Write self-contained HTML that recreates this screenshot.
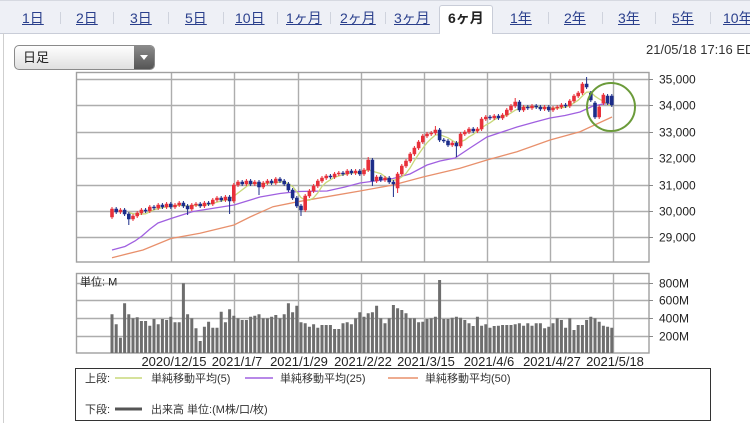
<!DOCTYPE html>
<html><head><meta charset="utf-8"><style>
html,body{margin:0;padding:0;width:750px;height:423px;overflow:hidden;background:#fff;font-family:"Liberation Sans","Noto Sans CJK JP",sans-serif;}
#tabs{position:absolute;left:0;top:0;width:750px;height:34px;background:#eef0f6;border-top:1px solid #d6d9e1;border-bottom:1px solid #c9cdd8;box-sizing:border-box}
.t{position:absolute;top:9px;font-size:14px;line-height:18px;color:#2a3f8c;text-decoration:underline;white-space:nowrap}
.s{position:absolute;top:12px;width:1px;height:12px;background:#cfd3dd}
#sel{position:absolute;left:439px;top:5px;width:54px;height:29px;background:#fff;border:1px solid #c9cdd8;border-bottom:none;box-sizing:border-box;border-radius:3px 3px 0 0}
#lb{position:absolute;left:3px;top:33px;width:1px;height:390px;background:#cfcfcf}
#dd{position:absolute;left:14px;top:45px;width:141px;height:25px;box-sizing:border-box;border:1px solid #8a8a8a;border-radius:5px;background:linear-gradient(#fefefe,#e0e0e0);overflow:hidden}
#dd span{position:absolute;left:8px;top:0;font-size:13px;line-height:23px;color:#222}
#dd i{position:absolute;right:0;top:0;width:20px;height:23px;background:linear-gradient(#8a8a8a,#555)}
#dd i:after{content:"";position:absolute;left:6px;top:9px;border-left:4px solid transparent;border-right:4px solid transparent;border-top:5px solid #fff}
#dt{position:absolute;left:646px;top:42px;font-size:13px;line-height:16px;color:#333;white-space:nowrap}
svg{position:absolute;left:0;top:0}
</style></head><body>
<div id="tabs"></div>
<div id="sel"></div>
<div class="t" style="left:22px">1日</div>
<div class="s" style="left:60px"></div>
<div class="t" style="left:76px">2日</div>
<div class="s" style="left:113px"></div>
<div class="t" style="left:130px">3日</div>
<div class="s" style="left:168px"></div>
<div class="t" style="left:185px">5日</div>
<div class="s" style="left:223px"></div>
<div class="t" style="left:235px">10日</div>
<div class="s" style="left:277px"></div>
<div class="t" style="left:286px">1ヶ月</div>
<div class="s" style="left:330px"></div>
<div class="t" style="left:340px">2ヶ月</div>
<div class="s" style="left:385px"></div>
<div class="t" style="left:394px">3ヶ月</div>
<div class="t" style="left:448px;color:#222;font-weight:bold;text-decoration:none">6ヶ月</div>
<div class="t" style="left:510px">1年</div>
<div class="s" style="left:548px"></div>
<div class="t" style="left:564px">2年</div>
<div class="s" style="left:602px"></div>
<div class="t" style="left:618px">3年</div>
<div class="s" style="left:655px"></div>
<div class="t" style="left:672px">5年</div>
<div class="s" style="left:710px"></div>
<div class="t" style="left:723px">10年</div>
<div id="lb"></div>
<div id="dd"><span>日足</span><i></i></div>
<div id="dt">21/05/18 17:16 EDT</div>
<svg width="750" height="423" viewBox="0 0 750 423" font-family="Liberation Sans, Noto Sans CJK JP, sans-serif">
<g stroke="#adadad" stroke-width="1.4" fill="none">
<path d="M76 79.5H649M76 105.5H649M76 132.5H649M76 158.5H649M76 185.5H649M76 211.5H649M76 237.5H649"/>
<path d="M171.5 72V262M234.5 72V262M298.5 72V262M361.5 72V262M424.5 72V262M487.5 72V262M550.5 72V262M613.5 72V262"/>
<path d="M76 283.5H649M76 300.5H649M76 318.5H649M76 336.5H649"/>
<path d="M171.5 273V353M234.5 273V353M298.5 273V353M361.5 273V353M424.5 273V353M487.5 273V353M550.5 273V353M613.5 273V353"/>
<rect x="76.5" y="72.5" width="572.5" height="189.5" stroke="#a0a0a0"/>
<rect x="76.5" y="273.5" width="572.5" height="79.5" stroke="#a0a0a0"/>
<path d="M649 79.5h4M649 105.5h4M649 132.5h4M649 158.5h4M649 185.5h4M649 211.5h4M649 237.5h4M649 283.5h4M649 300.5h4M649 318.5h4M649 336.5h4" stroke="#888" stroke-width="1"/>
</g>
<g font-size="12" fill="#222">
<text x="659" y="83.5">35,000</text>
<text x="659" y="109.5">34,000</text>
<text x="659" y="136.5">33,000</text>
<text x="659" y="162.5">32,000</text>
<text x="659" y="189.5">31,000</text>
<text x="659" y="215.5">30,000</text>
<text x="659" y="241.5">29,000</text>
<text x="659" y="287.5">800M</text>
<text x="659" y="304.5">600M</text>
<text x="659" y="322.5">400M</text>
<text x="659" y="340.5">200M</text>
</g>
<text x="80" y="285.5" font-size="11" fill="#222">単位: M</text>
<g font-size="13" fill="#222" text-anchor="middle">
<text x="174" y="366">2020/12/15</text>
<text x="237" y="366">2021/1/7</text>
<text x="299" y="366">2021/1/29</text>
<text x="363" y="366">2021/2/22</text>
<text x="426" y="366">2021/3/15</text>
<text x="489" y="366">2021/4/6</text>
<text x="552" y="366">2021/4/27</text>
<text x="615" y="366">2021/5/18</text>
</g>
<g fill="none" stroke-width="1.3">
<polyline stroke="#e8906c" points="112,257.7 143,250 171,238.5 200,233.3 234,225 250,217 273,206.7 298,201.7 327,196.7 360,191 393,185 424,176.7 460,168.3 487,160 517,151.7 550,140 580,131.7 612,117"/>
<polyline stroke="#a060e0" points="112,250 125,246.5 135,241 142,236 150,229 158,223 171,218.5 193,211.5 215,208 234,205 260,197 280,193.5 298,191.5 327,191 345,187 360,183 393,178.5 410,174 427,165 440,161 455,158 470,148 487,137 505,131 517,127 535,122 550,118 565,115.5 580,112 593,106 603,104 612,103.5"/>
<polyline stroke="#c8d87a" points="128.8,212.8 137.2,214.4 145.6,213.8 154,209.8 162.4,207.6 170.8,206.2 179.2,205.2 187.6,206 196,205.4 204.4,205.4 212.8,203.4 221.2,201 229.6,199.2 233.8,196.2 238,193 242.2,189.8 246.4,186.6 250.6,183.2 259,183.6 267.4,183.4 275.8,182.6 284.2,181.6 292.6,186.4 296.8,191.8 301,197.6 305.2,200 309.4,200.2 313.6,197.8 317.8,192.8 322,186.4 326.2,182.4 334.6,177.2 343,174.8 351.4,173 359.8,172.6 368.2,169.6 372.4,171.2 380.8,173.6 389.2,179.6 393.4,180.2 397.6,179.6 401.8,176.8 406,173.4 410.2,167.8 414.4,160.6 418.6,154.2 422.8,148.2 427,142.8 431.2,138.6 435.4,135 439.6,134.6 448,137.8 456.4,143 460.6,141.8 464.8,140 469,136.8 473.2,134.4 477.4,131 481.6,128 485.8,125 490,122.8 494.2,119.8 498.4,117.6 506.8,115.4 511,113 515.2,110.2 519.4,108.6 523.6,107 532,106.6 540.4,107.4 548.8,107.8 557.2,108.2 565.6,107.2 569.8,105.4 574,103 578.2,100.2 582.4,96 586.6,92.2 590.8,92 595,96.2 599.2,99 603.4,101.2 607.6,104.4 611.8,105.4"/>
</g>
<path stroke="#e8303a" stroke-width="1" fill="none" d="M112 207V219M120.4 208V214M133 214V221M137.2 211V218M141.4 208V215M149.8 205V213M158.2 203V210M166.6 202V209M175 203V209M179.2 201V207M191.8 203V211M196 202V207M204.4 201V208M212.8 198V206M217 196V202M225.4 195V202M233.8 183V203M238 180V187M246.4 179V186M254.8 180V186M263.2 181V189M267.4 179V185M275.8 177V185M305.2 194V212M309.4 189V198M313.6 184V193M317.8 179V188M322 176V183M326.2 174V180M334.6 172V179M338.8 171V176M347.2 169V176M355.6 169V175M364 168V176M368.2 157V172M376.6 175V183M385 176V182M397.6 172V193M401.8 164V176M406 159V168M410.2 152V163M414.4 146V156M418.6 140V150M422.8 134V144M427 132V138M431.2 131V136M435.4 126V135M452.2 141V147M460.6 132V148M464.8 130V136M469 127V134M477.4 127V133M481.6 117V131M485.8 115V121M494.2 114V120M502.6 113V120M506.8 108V117M511 104V112M515.2 98V108M523.6 105V112M532 104V110M544.6 105V111M553 106V112M557.2 105V110M561.4 103V109M569.8 99V108M574 94V103M578.2 91V98M582.4 82V95M599.2 105V119M603.4 93V105"/>
<path stroke="#1c2d8a" stroke-width="1" fill="none" d="M116.2 207V214M124.6 208V216M128.8 212V225M145.6 208V213M154 205V210M162.4 203V209M170.8 202V209M183.4 201V208M187.6 204V215M200.2 202V208M208.6 201V206M221.2 196V202M229.6 195V214M242.2 180V186M250.6 179V186M259 180V195M271.6 179V185M280 177V183M284.2 179V186M288.4 182V192M292.6 188V200M296.8 196V208M301 204V216M330.4 174V179M343 171V176M351.4 169V175M359.8 169V176M372.4 158V186M380.8 175V182M389.2 176V184M393.4 180V197M439.6 128V142M443.8 138V143M448 139V147M456.4 141V157M473.2 127V133M490 115V120M498.4 114V120M519.4 100V112M527.8 105V110M536.2 104V109M540.4 105V111M548.8 105V112M565.6 103V108M586.6 77V89M590.8 91V102M595 101V119M607.6 94V105M611.8 94V107"/>
<path fill="#e8303a" stroke="#e8303a" stroke-width="0.6" d="M110.5 209h3v8h-3zM118.9 210h3v2h-3zM131.5 216h3v3h-3zM135.7 213h3v3h-3zM139.9 210h3v3h-3zM148.3 207h3v4h-3zM156.7 205h3v3h-3zM165.1 204h3v3h-3zM173.5 205h3v2h-3zM177.7 203h3v2h-3zM190.3 205h3v4h-3zM194.5 204h3v1h-3zM202.9 203h3v3h-3zM211.3 200h3v4h-3zM215.5 198h3v2h-3zM223.9 197h3v3h-3zM232.3 185h3v16h-3zM236.5 182h3v3h-3zM244.9 181h3v3h-3zM253.3 182h3v2h-3zM261.7 183h3v4h-3zM265.9 181h3v2h-3zM274.3 179h3v4h-3zM303.7 196h3v14h-3zM307.9 191h3v5h-3zM312.1 186h3v5h-3zM316.3 181h3v5h-3zM320.5 178h3v3h-3zM324.7 176h3v2h-3zM333.1 174h3v3h-3zM337.3 173h3v1h-3zM345.7 171h3v3h-3zM354.1 171h3v2h-3zM362.5 170h3v4h-3zM366.7 160h3v10h-3zM375.1 177h3v4h-3zM383.5 178h3v2h-3zM396.1 174h3v14h-3zM400.3 166h3v8h-3zM404.5 161h3v5h-3zM408.7 154h3v7h-3zM412.9 148h3v6h-3zM417.1 142h3v6h-3zM421.3 136h3v6h-3zM425.5 134h3v2h-3zM429.7 133h3v1h-3zM433.9 130h3v3h-3zM450.7 143h3v2h-3zM459.1 134h3v12h-3zM463.3 132h3v2h-3zM467.5 129h3v3h-3zM475.9 129h3v2h-3zM480.1 119h3v10h-3zM484.3 117h3v2h-3zM492.7 116h3v2h-3zM501.1 115h3v3h-3zM505.3 110h3v5h-3zM509.5 106h3v4h-3zM513.7 102h3v4h-3zM522.1 107h3v3h-3zM530.5 106h3v2h-3zM543.1 107h3v2h-3zM551.5 108h3v2h-3zM555.7 107h3v1h-3zM559.9 105h3v2h-3zM568.3 101h3v5h-3zM572.5 96h3v5h-3zM576.7 93h3v3h-3zM580.9 84h3v9h-3zM597.7 107h3v10h-3zM601.9 95h3v8h-3z"/>
<path fill="#1c2d8a" stroke="#1c2d8a" stroke-width="0.6" d="M114.7 209h3v3h-3zM123.1 210h3v4h-3zM127.3 214h3v5h-3zM144.1 210h3v1h-3zM152.5 207h3v1h-3zM160.9 205h3v2h-3zM169.3 204h3v3h-3zM181.9 203h3v3h-3zM186.1 206h3v3h-3zM198.7 204h3v2h-3zM207.1 203h3v1h-3zM219.7 198h3v2h-3zM228.1 197h3v4h-3zM240.7 182h3v2h-3zM249.1 181h3v3h-3zM257.5 182h3v5h-3zM270.1 181h3v2h-3zM278.5 179h3v2h-3zM282.7 181h3v3h-3zM286.9 184h3v6h-3zM291.1 190h3v8h-3zM295.3 198h3v8h-3zM299.5 206h3v4h-3zM328.9 176h3v1h-3zM341.5 173h3v1h-3zM349.9 171h3v2h-3zM358.3 171h3v3h-3zM370.9 160h3v21h-3zM379.3 177h3v3h-3zM387.7 178h3v4h-3zM391.9 182h3v2h-3zM438.1 130h3v10h-3zM442.3 140h3v1h-3zM446.5 141h3v4h-3zM454.9 143h3v3h-3zM471.7 129h3v2h-3zM488.5 117h3v1h-3zM496.9 116h3v2h-3zM517.9 102h3v8h-3zM526.3 107h3v1h-3zM534.7 106h3v1h-3zM538.9 107h3v2h-3zM547.3 107h3v3h-3zM564.1 105h3v1h-3zM585.1 84h3v3h-3zM589.3 93h3v7h-3zM593.5 103h3v14h-3zM606.1 96h3v7h-3zM610.3 96h3v9h-3z"/>
<circle cx="611" cy="107" r="24" fill="none" stroke="#6b9b3a" stroke-width="2"/>
<path fill="#6e6e6e" d="M110.5 314.3h3V353h-3zM114.7 324.3h3V353h-3zM118.9 337.7h3V353h-3zM123.1 303.3h3V353h-3zM127.3 314.3h3V353h-3zM131.5 318.3h3V353h-3zM135.7 317.3h3V353h-3zM139.9 321h3V353h-3zM144.1 321h3V353h-3zM148.3 325.7h3V353h-3zM152.5 319h3V353h-3zM156.7 324.3h3V353h-3zM160.9 319h3V353h-3zM165.1 320h3V353h-3zM169.3 316.7h3V353h-3zM173.5 322.3h3V353h-3zM177.7 322.3h3V353h-3zM181.9 283.3h3V353h-3zM186.1 314.3h3V353h-3zM190.3 318.3h3V353h-3zM194.5 328.3h3V353h-3zM198.7 341h3V353h-3zM202.9 326.7h3V353h-3zM207.1 321.7h3V353h-3zM211.3 327.7h3V353h-3zM215.5 327.7h3V353h-3zM219.7 311.7h3V353h-3zM223.9 322.3h3V353h-3zM228.1 309.3h3V353h-3zM232.3 315.7h3V353h-3zM236.5 318.3h3V353h-3zM240.7 320h3V353h-3zM244.9 320h3V353h-3zM249.1 316.7h3V353h-3zM253.3 315.7h3V353h-3zM257.5 314.3h3V353h-3zM261.7 318.3h3V353h-3zM265.9 318.3h3V353h-3zM270.1 316.7h3V353h-3zM274.3 315h3V353h-3zM278.5 318.3h3V353h-3zM282.7 314.3h3V353h-3zM286.9 303.3h3V353h-3zM291.1 312.3h3V353h-3zM295.3 305.7h3V353h-3zM299.5 322.3h3V353h-3zM303.7 323.3h3V353h-3zM307.9 326.7h3V353h-3zM312.1 324.3h3V353h-3zM316.3 327.7h3V353h-3zM320.5 325h3V353h-3zM324.7 325h3V353h-3zM328.9 325h3V353h-3zM333.1 329h3V353h-3zM337.3 329h3V353h-3zM341.5 323.3h3V353h-3zM345.7 322.3h3V353h-3zM349.9 324.3h3V353h-3zM354.1 318.3h3V353h-3zM358.3 312.3h3V353h-3zM362.5 316.7h3V353h-3zM366.7 313.3h3V353h-3zM370.9 312.3h3V353h-3zM375.1 305.7h3V353h-3zM379.3 318.3h3V353h-3zM383.5 323.3h3V353h-3zM387.7 318.3h3V353h-3zM391.9 305h3V353h-3zM396.1 308.3h3V353h-3zM400.3 310h3V353h-3zM404.5 313.3h3V353h-3zM408.7 318.3h3V353h-3zM412.9 318.3h3V353h-3zM417.1 322.3h3V353h-3zM421.3 321.7h3V353h-3zM425.5 319h3V353h-3zM429.7 318.3h3V353h-3zM433.9 316.7h3V353h-3zM438.1 280h3V353h-3zM442.3 319h3V353h-3zM446.5 319h3V353h-3zM450.7 317.7h3V353h-3zM454.9 316.7h3V353h-3zM459.1 317.7h3V353h-3zM463.3 320h3V353h-3zM467.5 323.3h3V353h-3zM471.7 326h3V353h-3zM475.9 316.7h3V353h-3zM480.1 325.7h3V353h-3zM484.3 324.3h3V353h-3zM488.5 327.7h3V353h-3zM492.7 326h3V353h-3zM496.9 325.7h3V353h-3zM501.1 325h3V353h-3zM505.3 325h3V353h-3zM509.5 325h3V353h-3zM513.7 324.3h3V353h-3zM517.9 323.3h3V353h-3zM522.1 325.7h3V353h-3zM526.3 323.3h3V353h-3zM530.5 325.7h3V353h-3zM534.7 323.3h3V353h-3zM538.9 323.3h3V353h-3zM543.1 328.3h3V353h-3zM547.3 326.7h3V353h-3zM551.5 323.3h3V353h-3zM555.7 318.3h3V353h-3zM559.9 320h3V353h-3zM564.1 327.7h3V353h-3zM568.3 318.3h3V353h-3zM572.5 330h3V353h-3zM576.7 325h3V353h-3zM580.9 325h3V353h-3zM585.1 320h3V353h-3zM589.3 316.7h3V353h-3zM593.5 318.3h3V353h-3zM597.7 321.7h3V353h-3zM601.9 325.7h3V353h-3zM606.1 326.7h3V353h-3zM610.3 327.7h3V353h-3z"/>
<rect x="75.5" y="368.5" width="635" height="52" fill="none" stroke="#333" stroke-width="1"/>
<g font-size="11" fill="#333">
<text x="85" y="382">上段:</text>
<text x="151" y="382">単純移動平均(5)</text>
<text x="280" y="382">単純移動平均(25)</text>
<text x="425" y="382">単純移動平均(50)</text>
<text x="85" y="413">下段:</text>
<text x="151" y="413">出来高 単位:(M株/口/枚)</text>
</g>
<path d="M115 378H142" stroke="#c8d87a" stroke-width="1.5"/>
<path d="M245 378H273" stroke="#a060e0" stroke-width="1.5"/>
<path d="M388 378H418" stroke="#e8906c" stroke-width="1.5"/>
<path d="M115 409H142" stroke="#555" stroke-width="3"/>
</svg>
</body></html>
